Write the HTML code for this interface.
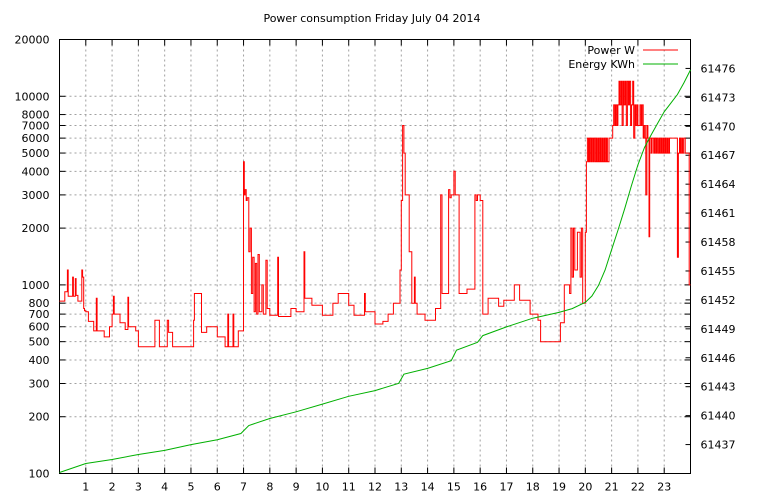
<!DOCTYPE html>
<html><head><meta charset="utf-8"><style>
body{margin:0;background:#fff}
svg{display:block;font-family:"DejaVu Sans","Liberation Sans",sans-serif;font-size:11px}
</style></head><body>
<svg id="chart" width="768" height="500"></svg>
<script>
const leftTicks=[100,200,300,400,500,600,700,800,1000,2000,3000,4000,5000,6000,7000,8000,10000,20000];
const rightTicks=[61437,61440,61443,61446,61449,61452,61455,61458,61461,61464,61467,61470,61473,61476];
const hourTicks=[1,2,3,4,5,6,7,8,9,10,11,12,13,14,15,16,17,18,19,20,21,22,23];
const powerT=[0,0.2,0.3,0.33,0.5,0.53,0.6,0.63,0.7,0.85,0.88,0.92,0.95,1.0,1.1,1.3,1.4,1.43,1.5,1.7,1.9,2.0,2.05,2.08,2.3,2.5,2.6,2.63,2.9,3.0,3.6,3.63,3.8,4.1,4.15,4.3,5.0,5.1,5.13,5.4,5.6,6.0,6.3,6.4,6.43,6.6,6.63,6.8,7.0,7.03,7.06,7.1,7.14,7.2,7.25,7.3,7.35,7.4,7.45,7.5,7.55,7.6,7.7,7.75,7.85,7.9,8.0,8.3,8.33,8.4,8.8,9.0,9.3,9.33,9.4,9.6,10.0,10.4,10.6,11.0,11.2,11.6,11.63,11.8,12.0,12.3,12.5,12.7,12.95,13.0,13.05,13.1,13.15,13.3,13.4,13.5,13.53,13.6,13.9,14.3,14.5,14.55,14.6,14.8,14.85,14.9,15.0,15.05,15.1,15.2,15.5,15.8,15.85,15.9,16.0,16.1,16.3,16.7,16.9,17.3,17.5,17.9,18.2,18.3,19.0,19.05,19.2,19.4,19.45,19.5,19.55,19.6,19.7,19.8,19.85,19.9,
20.0,20.04,20.08,20.12,20.16,20.2,20.24,20.28,20.32,20.36,20.4,20.44,20.48,20.52,20.56,20.6,20.64,20.68,20.72,20.76,20.8,20.84,20.9,
21.0,21.04,21.08,21.12,21.16,21.2,21.24,21.28,21.32,21.36,21.4,21.44,21.48,21.52,21.56,21.6,21.64,21.68,21.72,21.76,21.8,21.84,21.88,21.92,21.96,
22.0,22.04,22.08,22.12,22.16,22.2,22.24,22.28,22.3,22.34,22.38,22.42,22.45,22.5,22.54,22.6,22.64,22.68,22.72,22.76,22.8,22.84,22.88,22.92,22.96,
23.0,23.04,23.08,23.12,23.16,23.2,23.5,23.54,23.58,23.62,23.66,23.7,23.74,23.8,23.95];
const powerW=[820,920,1200,870,1100,870,1080,880,820,1200,1100,750,730,720,640,570,850,570,570,530,600,700,870,700,630,580,860,600,570,470,470,650,470,650,560,470,470,650,900,560,600,530,470,700,470,700,470,570,4500,3000,3200,2800,2900,1500,2000,900,1400,720,1300,700,1450,720,1000,700,1350,750,690,1400,680,680,750,720,1500,850,850,780,690,800,900,780,690,900,720,720,620,640,700,800,1200,2800,7000,5000,3000,1500,800,1100,800,700,650,750,3000,900,900,3200,2900,3000,4000,3000,3000,900,950,3000,2800,3000,2800,700,850,770,830,1000,830,700,650,500,500,630,1000,900,2000,1100,2000,1200,1900,1100,2000,800,1900,
4500,6000,4500,6000,4500,6000,4500,6000,4500,6000,4500,6000,4500,6000,4500,6000,4500,6000,4500,6000,4500,6000,6000,
7000,9000,7000,9000,7000,9000,12000,9000,12000,7000,12000,9000,12000,7000,12000,9000,12000,7000,9000,12000,6000,9000,7000,9000,7000,
7000,9000,7000,9000,6000,7000,6000,3000,7000,6000,1800,6000,5000,6000,5000,6000,5000,6000,5000,6000,5000,6000,5000,6000,5000,
6000,5000,6000,5000,6000,1400,5000,6000,5000,6000,5000,6000,5000,1000,5000];
const energyT=[0,1,2,3,4,5,6,6.9,7.2,8,9,10,11,12,12.9,13.1,14,14.9,15.1,15.9,16.1,17,18,19,19.5,20,20.25,20.5,20.75,21,21.25,21.5,21.75,22,22.25,22.5,22.75,23,23.25,23.5,23.75,24];
const energyK=[61434.1,61435.04,61435.45,61435.97,61436.39,61437.0,61437.5,61438.15,61438.98,61439.7,61440.4,61441.2,61442.0,61442.6,61443.35,61444.3,61444.9,61445.7,61446.8,61447.6,61448.3,61449.2,61450.1,61450.7,61451.1,61451.75,61452.4,61453.5,61455.1,61457.2,61459.3,61461.5,61463.8,61466.0,61467.8,61469.1,61470.3,61471.5,61472.4,61473.3,61474.5,61475.85];

const L=59.5,R=690.5,T=39.5,B=473.5;
const x=h=>L+(R-L)*h/24;
const y=v=>B-(B-T)*Math.log(v/100)/Math.log(200);
const y2=k=>B-(B-T)*(k-61434)/45;
const svg=document.getElementById('chart');
const NS='http://www.w3.org/2000/svg';
function mk(tag,attrs,parent){const e=document.createElementNS(NS,tag);for(const k in attrs)e.setAttribute(k,attrs[k]);(parent||svg).appendChild(e);return e;}

const title=mk('text',{x:372,y:22,'text-anchor':'middle'});
title.textContent='Power consumption Friday July 04 2014';



const grid=mk('g',{stroke:'#a0a0a0','stroke-dasharray':'2,3','stroke-width':1});


leftTicks.forEach(v=>{if(v>100&&v<20000){const l=mk('line',{x1:L,x2:R,y1:y(v),y2:y(v)},grid);}});
hourTicks.forEach(h=>{const l=mk('line',{x1:x(h),x2:x(h),y1:T,y2:B},grid);});

const ax=mk('g',{stroke:'#000','stroke-width':1});


leftTicks.forEach(v=>{
  mk('line',{x1:L,x2:L+6,y1:y(v),y2:y(v)},ax);
  mk('line',{x1:R,x2:R-6,y1:y(v),y2:y(v)},ax);
  const t=mk('text',{x:L-10,y:y(v)+4,'text-anchor':'end',stroke:'none',fill:'#000'});
  t.textContent=v;
  
  
});
rightTicks.forEach(k=>{
  mk('line',{x1:R,x2:R-5,y1:y2(k),y2:y2(k)},ax);
  const t=mk('text',{x:R+10,y:y2(k)+4,'text-anchor':'start',stroke:'none',fill:'#000'});
  t.textContent=k;
  
  
});
hourTicks.forEach(h=>{
  mk('line',{x1:x(h),x2:x(h),y1:B,y2:B-6},ax);
  mk('line',{x1:x(h),x2:x(h),y1:T,y2:T+6},ax);
  const t=mk('text',{x:x(h),y:B+17,'text-anchor':'middle',stroke:'none',fill:'#000'});
  t.textContent=h;
  
  
});
const frame=mk('rect',{x:L,y:T,width:R-L,height:B-T,fill:'none',stroke:'#000'});



let d='';
powerT.forEach((t,i)=>{
  const px=x(t).toFixed(1),py=y(powerW[i]).toFixed(1);
  if(i===0)d+='M'+px+' '+py;else d+='H'+px+'V'+py;
});
d+='H'+x(24).toFixed(1);
const pl=mk('path',{d:d,fill:'none',stroke:'#ff0000','stroke-width':1});



const el=mk('polyline',{points:energyT.map((t,i)=>x(t).toFixed(1)+','+y2(energyK[i]).toFixed(1)).join(' '),fill:'none',stroke:'#00b000','stroke-width':1});



const lg=mk('g',{});


[['Power W','#ff0000',50],['Energy KWh','#00b000',64]].forEach(([n,c,yy])=>{
  const t=mk('text',{x:635,y:yy+4,'text-anchor':'end'},lg);
  t.textContent=n;
  
  
  mk('line',{x1:643,x2:678,y1:yy,y2:yy,stroke:c},lg);
});
</script>
</body></html>
